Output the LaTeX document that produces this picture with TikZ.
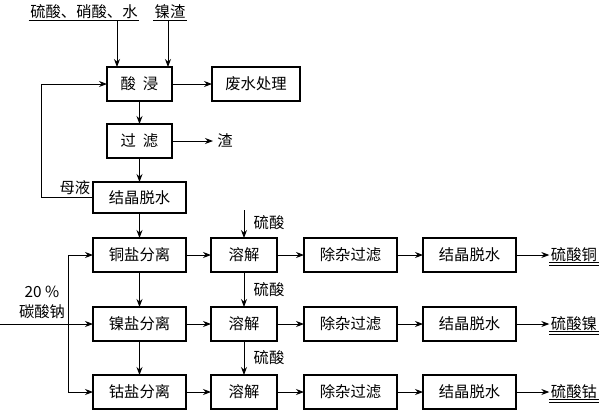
\documentclass[tikz,border=0pt]{standalone}
\usepackage{fontspec}
\setmainfont{Noto Sans CJK SC}
\usepackage{tikz}
\usetikzlibrary{
    arrows.meta,
    positioning
}

\begin{document}
\begin{tikzpicture}[
    x=0.75pt,
    y=-0.75pt,
    node distance=19.5pt,
    stage/.style={
        draw,
        minimum width=69.75pt,
        minimum height=25.5pt,
        inner sep=1pt,
        outer sep=0pt,
        align=center,
        line width=0.8pt,
        font=\fontsize{11.5pt}{13pt}\selectfont
    },
    note/.style={
        inner sep=1pt,
        align=center,
        font=\fontsize{11.5pt}{15pt}\selectfont
    },
    product/.style={
        inner sep=1pt,
        font=\fontsize{11.5pt}{13pt}\selectfont
    },
    arrow/.style={
        -{Stealth[length=6pt,width=4.5pt]},
        line width=0.7pt
    },
    plain/.style={
        line width=0.7pt
    }
]
\useasboundingbox (0,0) rectangle (600,411);
%
% leaching and filtering
\node[stage, minimum width=48.75pt] (leach) at (139.5,84) {酸\ \ 浸};
\node[stage, minimum width=66pt, right=30pt of leach] (waste) {废水处理};
\node[stage, minimum width=48.75pt, below=17.25pt of leach] (filter) {过\ \ 滤};
\node[note, inner sep=3pt, right=30.75pt of filter] (slag) {渣};
\node[stage, minimum height=23.25pt, below=18pt of filter] (cryst) {结晶脱水};
%
% feed
\node[note] (acids) at (84,12) {硫酸、硝酸、水};
\node[note] (nislag) at (170,12) {镍渣};
\coordinate (in1) at (117,20);
\coordinate (in2) at (168,20);
\draw[plain] (acids.south west) -- (acids.south east);
\draw[plain] (nislag.south west) -- (nislag.south east);
\draw[arrow] (in1) -- (in1 |- leach.north);
\draw[arrow] (in2) -- (in2 |- leach.north);
%
\draw[arrow] (leach) -- (waste);
\draw[arrow] (leach) -- (filter);
\draw[arrow] (filter) -- (slag);
\draw[arrow] (filter) -- (cryst);
%
% mother liquor back to leaching
\coordinate (loop) at (41,197.5);
\draw[arrow] (cryst.west) -- (loop) |- (leach.west);
\node[note] (mother) at (75,188) {母液};
%
% copper row
\node[stage, below=18.75pt of cryst] (cusep) {铜盐分离};
\node[stage, minimum width=49.5pt, right=18.75pt of cusep] (dis1) {溶解};
\node[stage, right=20.25pt of dis1] (purify1) {除杂过滤};
\node[stage, right=19.5pt of purify1] (dry1) {结晶脱水};
\node[product, right=25pt of dry1] (cuso4) {硫酸铜};
%
% nickel row
\node[stage, below=26.25pt of cusep] (nisep) {镍盐分离};
\node[stage, minimum width=49.5pt, right=18.75pt of nisep] (dis2) {溶解};
\node[stage, right=20.25pt of dis2] (purify2) {除杂过滤};
\node[stage, right=19.5pt of purify2] (dry2) {结晶脱水};
\node[product, right=25pt of dry2] (niso4) {硫酸镍};
%
% cobalt row
\node[stage, below=25.5pt of nisep] (cosep) {钴盐分离};
\node[stage, minimum width=49.5pt, right=18.75pt of cosep] (dis3) {溶解};
\node[stage, right=20.25pt of dis3] (purify3) {除杂过滤};
\node[stage, right=19.5pt of purify3] (dry3) {结晶脱水};
\node[product, right=25pt of dry3] (coso4) {硫酸钴};
%
\draw[arrow] (cryst) -- (cusep);
\draw[arrow] (cusep) -- (nisep);
\draw[arrow] (nisep) -- (cosep);
%
\draw[arrow] (cusep) -- (dis1);
\draw[arrow] (dis1) -- (purify1);
\draw[arrow] (purify1) -- (dry1);
\draw[arrow] (dry1) -- (cuso4);
\draw[arrow] (nisep) -- (dis2);
\draw[arrow] (dis2) -- (purify2);
\draw[arrow] (purify2) -- (dry2);
\draw[arrow] (dry2) -- (niso4);
\draw[arrow] (cosep) -- (dis3);
\draw[arrow] (dis3) -- (purify3);
\draw[arrow] (purify3) -- (dry3);
\draw[arrow] (dry3) -- (coso4);
%
% products underlined twice
\draw[plain] ([yshift=-1pt]cuso4.south west) -- ([yshift=-1pt]cuso4.south east);
\draw[plain] ([yshift=1.25pt]cuso4.south west) -- ([yshift=1.25pt]cuso4.south east);
\draw[plain] ([yshift=-1pt]niso4.south west) -- ([yshift=-1pt]niso4.south east);
\draw[plain] ([yshift=1.25pt]niso4.south west) -- ([yshift=1.25pt]niso4.south east);
\draw[plain] ([yshift=-1pt]coso4.south west) -- ([yshift=-1pt]coso4.south east);
\draw[plain] ([yshift=1.25pt]coso4.south west) -- ([yshift=1.25pt]coso4.south east);
%
% sulphuric acid to dissolving
\coordinate (acidin) at (dis1.north |- 0,210);
\draw[arrow] (acidin) -- (dis1.north);
\draw[arrow] (dis1) -- (dis2);
\draw[arrow] (dis2) -- (dis3);
\node[note] (acid1) at (269,223) {硫酸};
\node[note] (acid2) at (269,290) {硫酸};
\node[note] (acid3) at (269,358) {硫酸};
%
% sodium carbonate feed
\coordinate (sodain) at (0,324);
\coordinate (split) at (68,324);
\draw[arrow] (sodain) -- (nisep.west);
\draw[arrow] (split) |- (cusep.west);
\draw[arrow] (split) |- (cosep.west);
\node[note] (soda) at (42,302) {20 \%\\碳酸钠};
%
\end{tikzpicture}
\end{document}
